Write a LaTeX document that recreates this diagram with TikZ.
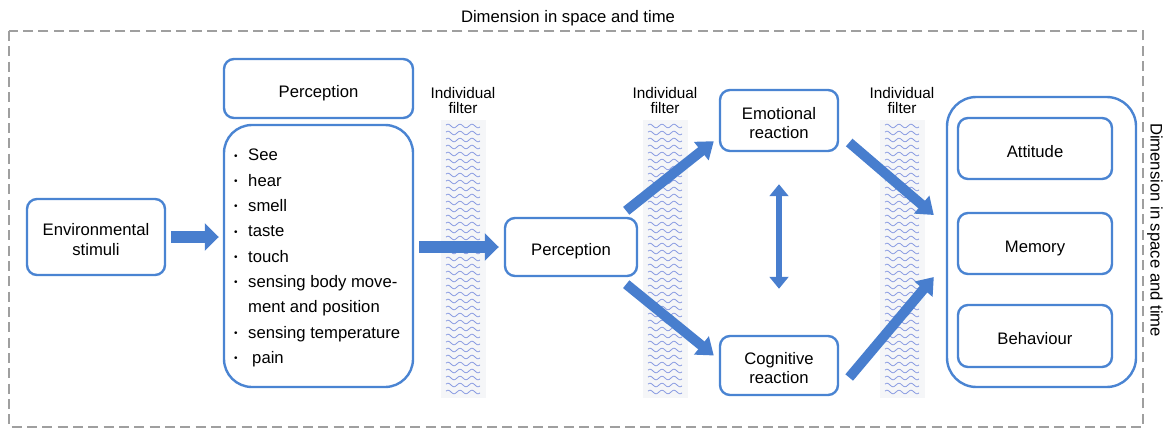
\documentclass[tikz,border=0pt]{standalone}
\usepackage{fontspec}
\setmainfont{Liberation Sans}
\usetikzlibrary{arrows.meta,calc,positioning}
\definecolor{boxblue}{RGB}{74,132,210}
\definecolor{arrblue}{RGB}{72,126,206}
\definecolor{wavecol}{RGB}{138,156,226}
\definecolor{stripgray}{RGB}{245,246,248}
\newcommand{\boxtext}[1]{\raisebox{-6.5pt}[0pt][0pt]{\begin{tabular}{@{}c@{}}#1\end{tabular}}}
\newcommand{\dotitem}{\raisebox{1.3pt}{\scalebox{0.6}{•}}}

\begin{document}
\begin{tikzpicture}[x=0.75pt,y=-0.75pt,
  box/.style={draw=boxblue, line width=1.8pt, rounded corners=7.5pt, fill=white, inner sep=0pt, font=\fontsize{12.5}{14.5}\selectfont},
  fat/.style={draw=arrblue, line width=9pt, -{Triangle[length=10.5pt,width=20pt]}},
  slim/.style={draw=arrblue, line width=7.5pt, -{Triangle[length=12pt,width=17pt]}},
  twoway/.style={draw=arrblue, line width=4.5pt, {Triangle[length=9pt,width=14pt]}-{Triangle[length=9pt,width=14pt]}},
  strip/.style={fill=stripgray, minimum width=33.75pt, minimum height=208.5pt, inner sep=0pt},
  filterlbl/.style={align=center, font=\fontsize{11.5}{11.25}\selectfont},
  wave/.style={draw=wavecol, line width=0.6pt}
]
\useasboundingbox (0,0) rectangle (1163,428);

% frame
\draw[gray!75, line width=1pt, dash pattern=on 7.5pt off 4pt] (9,31) rectangle (1143,427);
\node[font=\fontsize{12.5}{15}\selectfont] (title) at (568,18) {Dimension in space and time};
\node[rotate=-90, font=\fontsize{12.5}{15}\selectfont] (side) at (1155,230) {Dimension in space and time};

% individual filters
\foreach \fx/\nm in {463/fa,665/fb,902/fc}{
  \node[strip] (\nm) at (\fx,259) {};
  \node[filterlbl, above=1pt of \nm] (\nm-l) {Individual\\filter};
  \foreach \r in {0,...,38}
    \draw[wave] plot[domain=-17:17,samples=25,smooth] ({\fx+\x},{126+7*\r+1.8*sin(30*\x)});
}

% boxes
\node[box, minimum width=103.5pt, minimum height=57pt] (env) at (96,237) {\boxtext{Environmental\\stimuli}};
\node[box, minimum width=141.75pt, minimum height=44.25pt] (ptop) at (318.5,88.5) {\boxtext{Perception}};
\node[box, rounded corners=21pt, minimum width=141.75pt, minimum height=196.5pt] (list) at (318.5,256) {};
\node[anchor=west, inner sep=0pt, font=\fontsize{12.5}{19}\selectfont] (items) at ($(list.west)+(11,1)$) {%
  \begin{tabular}{@{}c@{\hspace{8pt}}l@{}}
  \dotitem & See\\
  \dotitem & hear\\
  \dotitem & smell\\
  \dotitem & taste\\
  \dotitem & touch\\
  \dotitem & sensing body move-\\
    & ment and position\\
  \dotitem & sensing temperature\\
  \dotitem & \hspace{3pt}pain
  \end{tabular}};
\node[box, minimum width=99pt, minimum height=43.5pt] (per) at (571,247) {\boxtext{Perception}};
\node[box, minimum width=88.5pt, minimum height=45.75pt] (emo) at (779,120.5) {\boxtext{Emotional\\reaction}};
\node[box, minimum width=88.5pt, minimum height=44.25pt] (cog) at (779,365.5) {\boxtext{Cognitive\\reaction}};
\node[box, rounded corners=22pt, minimum width=141.75pt, minimum height=217.5pt] (outer) at (1041.5,242) {};
\node[box, minimum width=115.5pt, minimum height=45.75pt] (att) at (1035,148.5) {\boxtext{Attitude}};
\node[box, minimum width=115.5pt, minimum height=45.75pt] (mem) at (1035,243.5) {\boxtext{Memory}};
\node[box, minimum width=115.5pt, minimum height=46.5pt] (beh) at (1035,336) {\boxtext{Behaviour}};

% arrows
\draw[fat, shorten <=3.75pt, shorten >=3pt] (env.east) -- (env.east -| list.west);
\draw[fat, shorten <=3.75pt, shorten >=3.75pt] (list.east |- per.west) -- (per.west);
\draw[slim] ($(per.north east)+(-12,-6)$) -- ($(emo.south west)+(-5,-11)$);
\draw[slim] ($(per.south east)+(-12,7)$) -- ($(cog.west)+(-5,-10)$);
\draw[slim] ($(emo.east)+(10,22)$) -- ($(outer.west)+(-12,-27)$);
\draw[slim] ($(cog.east)+(10,12)$) -- ($(outer.west)+(-12,35)$);
\draw[twoway] ($(emo.south)+(0,32)$) -- ($(cog.north)+(0,-46)$);
\end{tikzpicture}
\end{document}
